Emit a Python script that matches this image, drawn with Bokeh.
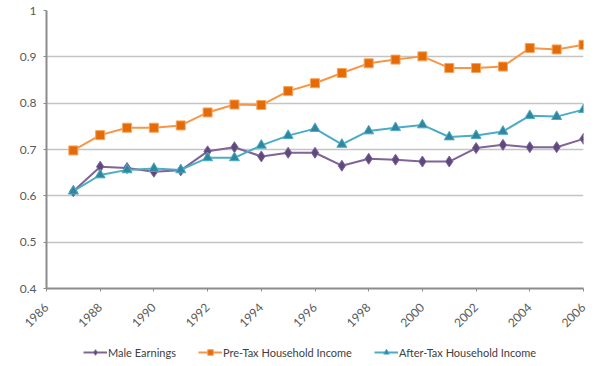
from bokeh.plotting import figure
from bokeh.models import FixedTicker, Legend, LegendItem, Range1d
from bokeh.layouts import column
from bokeh.embed import file_html
from bokeh.resources import INLINE
import math

years = list(range(1987, 2007))
male_earnings = [0.610, 0.663, 0.660, 0.652, 0.655, 0.696, 0.705, 0.685, 0.693, 0.693,
                 0.665, 0.680, 0.678, 0.674, 0.674, 0.703, 0.710, 0.705, 0.705, 0.723]
pre_tax = [0.698, 0.731, 0.747, 0.747, 0.752, 0.780, 0.797, 0.796, 0.826, 0.843,
           0.865, 0.886, 0.894, 0.901, 0.876, 0.876, 0.879, 0.919, 0.916, 0.926]
after_tax = [0.610, 0.645, 0.656, 0.659, 0.656, 0.682, 0.682, 0.709, 0.730, 0.745,
             0.711, 0.740, 0.747, 0.753, 0.727, 0.730, 0.739, 0.773, 0.771, 0.786]
series_names = ["Male Earnings", "Pre-Tax Household Income", "After-Tax Household Income"]
x_ticks = list(range(1986, 2007, 2))
y_ticks = [0.4, 0.5, 0.6, 0.7, 0.8, 0.9, 1.0]

FONT = "Lato"
W, H1, H2 = 592, 344, 16
p = figure(width=W, height=H1, output_backend="svg", toolbar_location=None,
           x_range=Range1d(1986, 2006), y_range=Range1d(0.4, 1.0),
           min_border_left=46, min_border_right=9, min_border_top=10,
           min_border_bottom=56)
p.outline_line_color = None
p.background_fill_color = "white"

p.xgrid.grid_line_color = None
p.ygrid.grid_line_color = "#c4c4c4"
p.ygrid.grid_line_width = 1.5
p.ygrid.ticker = FixedTicker(ticks=y_ticks)

for ax in (p.xaxis, p.yaxis):
    ax.axis_line_color = "#8c8c8c"
    ax.axis_line_width = 2
    ax.major_tick_line_color = "#8c8c8c"
    ax.minor_tick_line_color = None
    ax.major_tick_in = 0
    ax.major_tick_out = 3
    ax.major_label_text_font = FONT
    ax.major_label_text_font_size = "12px"
    ax.major_label_text_color = "#595959"

p.xaxis.ticker = FixedTicker(ticks=x_ticks)
p.xaxis.major_label_orientation = math.pi / 4
p.xaxis.major_label_standoff = 14
p.yaxis.ticker = FixedTicker(ticks=y_ticks)
p.yaxis.major_label_overrides = {1.0: "1", 1: "1"}
p.yaxis.major_label_standoff = 7

styles = [
    dict(line="#7f6497", marker="diamond", size=11, fill="#5f497a", edge="#8064a2"),
    dict(line="#f79646", marker="square", size=9, fill="#e36c09", edge="#f7a35c"),
    dict(line="#4bacc6", marker="triangle", size=10, fill="#31859c", edge="#4bacc6"),
]
all_series = [male_earnings, pre_tax, after_tax]
for ys, st in zip(all_series, styles):
    p.line(years, ys, line_color=st["line"], line_width=2)
    p.scatter(years, ys, marker=st["marker"], size=st["size"], fill_color=st["fill"],
              line_color=st["edge"], line_width=1)

# legend strip below the chart (its glyphs use the same data, kept out of view)
lg = figure(width=W, height=H2, output_backend="svg", toolbar_location=None,
            x_range=Range1d(0, 1), y_range=Range1d(0, 1),
            x_axis_location=None, y_axis_location=None,
            min_border_left=0, min_border_right=0, min_border_top=0, min_border_bottom=0)
lg.grid.visible = False
lg.outline_line_color = None
items = []
for name, ys, st in zip(series_names, all_series, styles):
    r1 = lg.line(years, ys, line_color=st["line"], line_width=2)
    r2 = lg.scatter(years, ys, marker=st["marker"], size=st["size"] - 1,
                    fill_color=st["fill"], line_color=st["edge"], line_width=1)
    items.append(LegendItem(label=name, renderers=[r1, r2]))

legend = Legend(items=items, orientation="horizontal", location=(37, 1))
legend.label_text_font = FONT
legend.label_text_font_size = "11px"
legend.label_text_color = "#404040"
legend.glyph_width = 24
legend.glyph_height = 14
legend.label_height = 14
legend.label_standoff = 1
legend.spacing = 22
legend.padding = 0
legend.margin = 0
legend.border_line_color = None
legend.background_fill_alpha = 0
lg.add_layout(legend, "center")

layout = column(p, lg, spacing=0)
open("out.html", "w").write(file_html(layout, INLINE))
